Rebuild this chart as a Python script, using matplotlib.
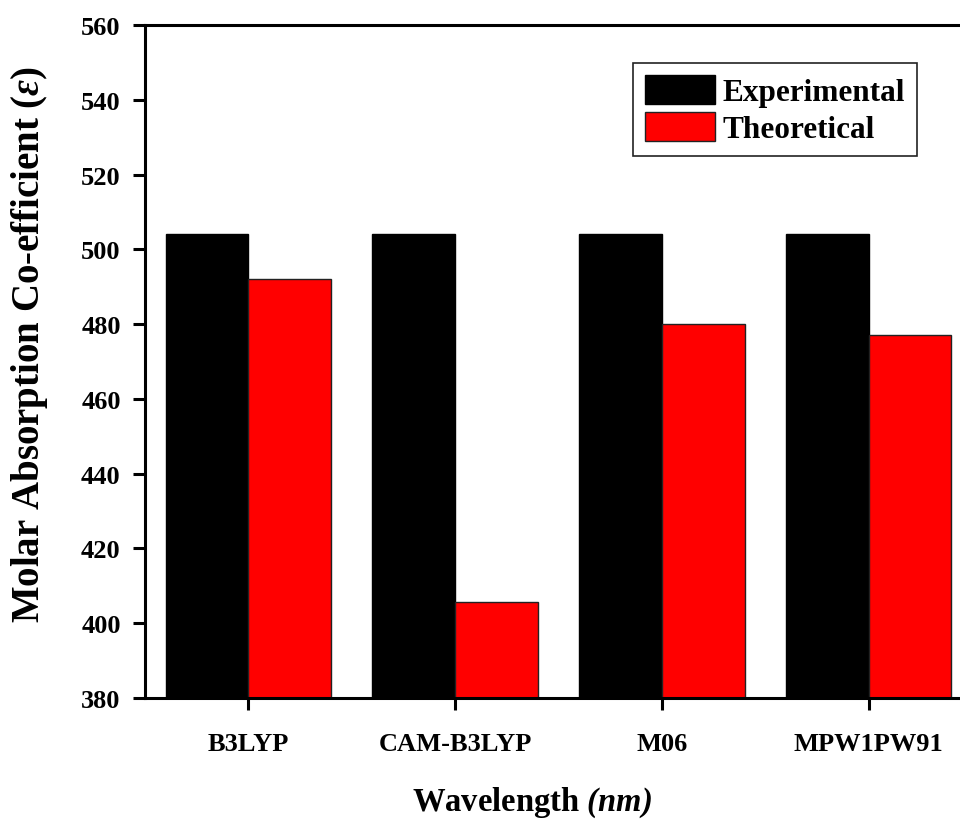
import numpy as np
import matplotlib
matplotlib.use("Agg")
import matplotlib.pyplot as plt

# functionals and molar absorption values
methods = ["B3LYP", "CAM-B3LYP", "M06", "MPW1PW91"]
experimental = [504, 504, 504, 504]
theoretical = [492, 405.7, 480, 477]
yticks = [380, 400, 420, 440, 460, 480, 500, 520, 540, 560]

plt.rcParams['font.family'] = 'Liberation Serif'
plt.rcParams['font.weight'] = 'bold'
plt.rcParams['mathtext.fontset'] = 'custom'
plt.rcParams['mathtext.rm'] = 'Liberation Serif:bold'
plt.rcParams['mathtext.bf'] = 'Liberation Serif:bold'
plt.rcParams['mathtext.it'] = 'Liberation Serif:italic'
plt.rcParams['mathtext.bfit'] = 'Liberation Serif:bold:italic'

fig = plt.figure(figsize=(9.6, 8.2), dpi=100)
# axes run a bit past the right edge of the figure
ax = fig.add_axes([145 / 960, 1 - 699 / 820, 827 / 960, 673 / 820])

x = np.arange(len(methods))
w = 0.4
ax.bar(x - w / 2, experimental, w, color='black', edgecolor='black', linewidth=1,
       label='Experimental')
ax.bar(x + w / 2, theoretical, w, color='#ff0000', edgecolor='#222222', linewidth=1,
       label='Theoretical')

ax.set_xlim(-0.5, 3.5)
ax.set_ylim(380, 560)
ax.set_yticks(yticks)
ax.set_xticks(x)
ax.set_xticklabels(methods)

for s in ax.spines.values():
    s.set_linewidth(2.2)
ax.tick_params(axis='both', direction='out', length=8.5, width=2.2, labelsize=19)
ax.tick_params(axis='y', pad=9)
ax.tick_params(axis='x', pad=16)

ax.set_xlabel(r'Wavelength $\mathbfit{(nm)}$', fontsize=23.5, fontweight='bold')
ax.xaxis.set_label_coords(0.468, -0.128)
ax.set_ylabel(r'Molar Absorption Co-efficient $(\varepsilon)$', fontsize=28,
              fontweight='bold')
ax.yaxis.set_label_coords(-0.115, 0.527)

leg = ax.legend(loc='upper left', bbox_to_anchor=(633 / 960, 1 - 64 / 820),
                bbox_transform=fig.transFigure, borderaxespad=0, fontsize=22.5,
                handlelength=2.25, handleheight=1.08, labelspacing=0.15,
                handletextpad=0.25, borderpad=0.37, fancybox=False)
leg.get_frame().set_edgecolor('#222222')
leg.get_frame().set_linewidth(1.2)
leg.get_frame().set_alpha(1)

fig.savefig('out.png', dpi=100)
